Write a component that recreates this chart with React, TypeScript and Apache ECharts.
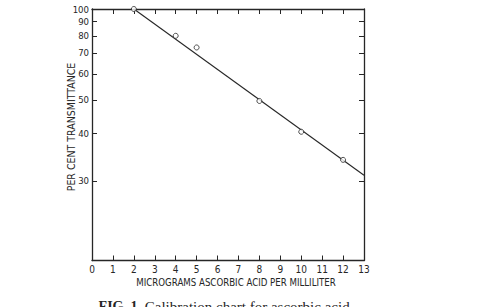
import React, { useEffect, useRef } from "react";
import * as echarts from "echarts";

// measured points (µg/ml, % transmittance)
const concentrations = [2, 4, 5, 8, 10, 12];
const transmittance = [100, 80, 73, 49.6, 40.5, 34];
// fitted calibration line end points
const fitConcentrations = [2, 13];
const fitTransmittance = [100, 31];
// axis ticks
const yTickLabels = [100, 90, 80, 70, 60, 50, 40, 30];
const yBottomValue = 19.3;
const xMin = 0;
const xMax = 13;

// the chart paper's transmittance scale (slightly stretched log scale)
const CURVE = 0.461;
const toScale = (t: number) => {
  const d = 2 - Math.log10(t);
  return d + CURVE * d * d;
};

const NARROW = '"Liberation Sans Narrow", "DejaVu Sans Condensed", "Roboto Condensed", sans-serif';
const SERIF = '"Liberation Serif", "DejaVu Serif", serif';
const INK = "#262626";

export default function App() {
  const ref = useRef<HTMLDivElement>(null);
  useEffect(() => {
    if (!ref.current) return;
    const chart = echarts.init(ref.current, undefined, { renderer: "svg" });
    const tickVals = yTickLabels.map(toScale);
    const yFmt = (v: number) => {
      let best = 0;
      let bd = Infinity;
      yTickLabels.forEach((t, i) => {
        const dd = Math.abs(tickVals[i] - v);
        if (dd < bd) { bd = dd; best = i; }
      });
      return String(yTickLabels[best]);
    };
    const axisLine = { show: true, onZero: false, lineStyle: { color: INK, width: 1.3 } };
    const tickStyle = { color: INK, width: 1 };
    const xBase = {
      type: "value" as const,
      min: xMin,
      max: xMax,
      interval: 1,
      axisLine,
      splitLine: { show: false },
    };
    const yBase = {
      type: "value" as const,
      inverse: true,
      min: 0,
      max: toScale(yBottomValue),
      axisLine,
      splitLine: { show: false },
    };
    chart.setOption({
      animation: false,
      backgroundColor: "#fff",
      title: {
        text: "MICROGRAMS ASCORBIC ACID PER MILLILITER",
        left: 236,
        textAlign: "center",
        top: 277,
        padding: 0,
        textStyle: { color: INK, fontSize: 9.6, fontWeight: "normal", fontFamily: NARROW },
      },
      grid: { left: 92, top: 9, width: 272, height: 251.5 },
      xAxis: [
        {
          ...xBase,
          position: "bottom",
          axisTick: { show: true, inside: true, length: 5, lineStyle: tickStyle },
          axisLabel: { show: true, margin: 4, fontSize: 10, color: INK, fontFamily: NARROW },
        },
        {
          ...xBase,
          position: "top",
          axisTick: { show: true, inside: true, length: 5, lineStyle: tickStyle },
          axisLabel: { show: false },
        },
      ],
      yAxis: [
        {
          ...yBase,
          position: "left",
          axisTick: { show: true, inside: true, length: 5, customValues: tickVals, lineStyle: tickStyle },
          axisLabel: {
            show: true,
            customValues: tickVals,
            formatter: yFmt,
            margin: 3,
            fontSize: 9.5,
            color: INK,
            fontFamily: NARROW,
          },
        },
        {
          ...yBase,
          position: "right",
          axisTick: { show: true, inside: true, length: 5, customValues: tickVals, lineStyle: tickStyle },
          axisLabel: { show: false },
        },
      ],
      series: [
        {
          type: "line",
          xAxisIndex: 0,
          yAxisIndex: 0,
          data: fitConcentrations.map((x, i) => [x, toScale(fitTransmittance[i])]),
          showSymbol: false,
          lineStyle: { color: INK, width: 1.1 },
          z: 2,
        },
        {
          type: "scatter",
          xAxisIndex: 0,
          yAxisIndex: 0,
          data: concentrations.map((x, i) => [x, toScale(transmittance[i])]),
          symbol: "circle",
          symbolSize: 5,
          itemStyle: { color: "#fff", borderColor: INK, borderWidth: 1 },
          z: 3,
        },
      ],
      graphic: [
        {
          type: "text",
          x: 71,
          y: 127,
          rotation: Math.PI / 2,
          style: {
            text: "PER CENT TRANSMITTANCE",
            fill: INK,
            font: `10.5px ${NARROW}`,
            align: "center",
            verticalAlign: "middle",
          },
        },
        {
          type: "text",
          x: 226,
          y: 299,
          style: {
            text: "{b|FIG. 1.} Calibration chart for ascorbic acid.",
            fill: INK,
            font: `15px ${SERIF}`,
            align: "center",
            verticalAlign: "top",
            rich: {
              b: { fontFamily: SERIF, fontSize: 14, fontWeight: "bold", fill: INK },
            },
          },
        },
      ],
    });
    return () => chart.dispose();
  }, []);
  return (
    <div
      ref={ref}
      style={{ position: "fixed", left: 0, top: 0, width: 486, height: 307, background: "#fff" }}
    />
  );
}
